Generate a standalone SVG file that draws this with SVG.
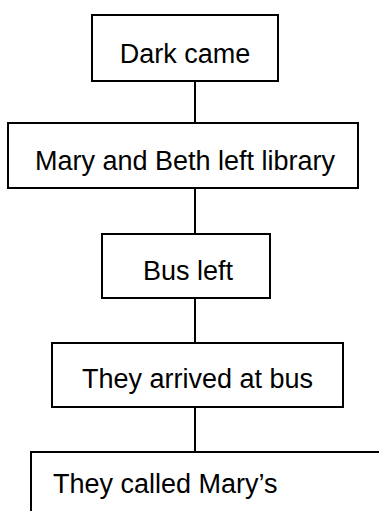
<svg xmlns="http://www.w3.org/2000/svg" width="379" height="511" viewBox="0 0 379 511">
<style>
.box{fill:#fff;stroke:#000;stroke-width:2}
.lbl{font-family:"Liberation Sans",Arial,sans-serif;font-size:27px;fill:#000}
.c{text-anchor:middle}
.conn{stroke:#000;stroke-width:2;fill:none}
</style>
<rect width="379" height="511" fill="#fff"/>
<g id="connectors">
<line class="conn" x1="195" y1="81" x2="195" y2="123"/>
<line class="conn" x1="195" y1="188" x2="195" y2="234"/>
<line class="conn" x1="195" y1="298" x2="195" y2="343"/>
<line class="conn" x1="195" y1="407" x2="195" y2="452"/>
</g>
<g id="n1">
<rect class="box" x="92" y="15" width="186" height="66"/>
<text class="lbl c" x="185" y="63">Dark came</text>
</g>
<g id="n2">
<rect class="box" x="8" y="123" width="350" height="65"/>
<text class="lbl c" x="185" y="170">Mary and Beth left library</text>
</g>
<g id="n3">
<rect class="box" x="102" y="234" width="168" height="64"/>
<text class="lbl c" x="188" y="280">Bus left</text>
</g>
<g id="n4">
<rect class="box" x="52" y="343" width="291" height="64"/>
<text class="lbl c" x="197.5" y="388">They arrived at bus</text>
</g>
<g id="n5">
<rect class="box" x="31" y="452" width="400" height="100"/>
<text class="lbl" x="53" y="493">They called Mary’s</text>
</g>
</svg>
